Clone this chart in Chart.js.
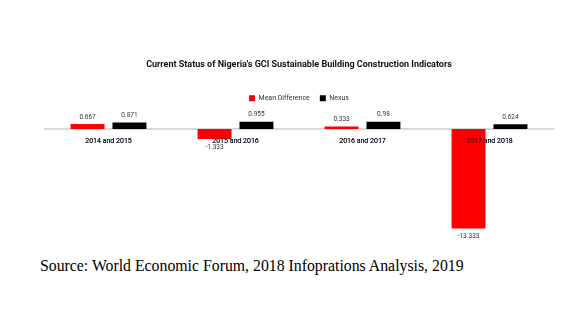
<!DOCTYPE html>
<html>
<head>
<meta charset="utf-8">
<script src="https://cdn.jsdelivr.net/npm/chart.js@4"></script>
<style>
  html, body { margin: 0; padding: 0; background: #fff; }
  #wrap { position: relative; width: 578px; height: 330px; overflow: hidden; }
  #box { position: absolute; left: 0; top: 0; width: 578px; height: 250px; }
  #source { position: absolute; left: 40px; top: 257px; font-family: "Liberation Serif", "Times New Roman", serif; font-size: 15.8px; color: #000; white-space: nowrap; }
</style>
</head>
<body>
<div id="wrap">
  <div id="box"><canvas id="myChart"></canvas></div>
  <div id="source">Source: World Economic Forum, 2018 Infoprations Analysis, 2019</div>
</div>
<script>
const categories = ['2014 and 2015', '2015 and 2016', '2016 and 2017', '2017 and 2018'];
const meanDifference = [0.667, -1.333, 0.333, -13.333];
const nexus = [0.871, 0.955, 0.98, 0.624];

// value next to each bar (above for positive, below for negative),
// and category labels redrawn on top of the bars like in the original
const barValues = {
  id: 'barValues',
  afterDatasetsDraw(chart) {
    chart.scales.x.drawLabels(chart.chartArea);
    const c = chart.ctx;
    c.save();
    c.font = '6.5px Roboto';
    c.fillStyle = '#333';
    c.textAlign = 'center';
    c.textBaseline = 'middle';
    chart.data.datasets.forEach((ds, i) => {
      chart.getDatasetMeta(i).data.forEach((bar, j) => {
        const v = ds.data[j];
        const y = v >= 0 ? bar.y - 7 : bar.y + 8;
        c.fillText(String(v), bar.x, y);
      });
    });
    c.restore();
  }
};

const ctx = document.getElementById('myChart').getContext('2d');

new Chart(ctx, {
  type: 'bar',
  data: {
    labels: categories,
    datasets: [{
      label: 'Mean Difference',
      data: meanDifference,
      backgroundColor: '#ff0000',
      categoryPercentage: 0.66,
      barPercentage: 0.81
    }, {
      label: 'Nexus',
      data: nexus,
      backgroundColor: '#000000',
      categoryPercentage: 0.66,
      barPercentage: 0.81
    }]
  },
  options: {
    responsive: true,
    maintainAspectRatio: false,
    animation: false,
    layout: { padding: { left: 45, right: 25, top: 0, bottom: 9 } },
    plugins: {
      title: {
        display: true,
        text: "Current Status of Nigeria's GCI Sustainable Building Construction Indicators",
        color: '#111',
        font: { family: 'Roboto', size: 9, weight: 'bold' },
        padding: { top: 59, bottom: 15 }
      },
      legend: {
        display: true,
        labels: {
          boxWidth: 6,
          boxHeight: 6,
          color: '#333',
          font: { family: 'Roboto', size: 7 }
        }
      },
      tooltip: { enabled: false }
    },
    scales: {
      x: {
        position: { y: 0 },
        grid: { display: false },
        border: { display: true, color: '#d9d9d9', width: 2 },
        ticks: { color: '#1a1a2e', padding: 0, font: { family: 'Roboto', size: 7 } }
      },
      y: {
        display: false,
        min: -15,
        max: 2.3
      }
    }
  },
  plugins: [barValues]
});
</script>
</body>
</html>
